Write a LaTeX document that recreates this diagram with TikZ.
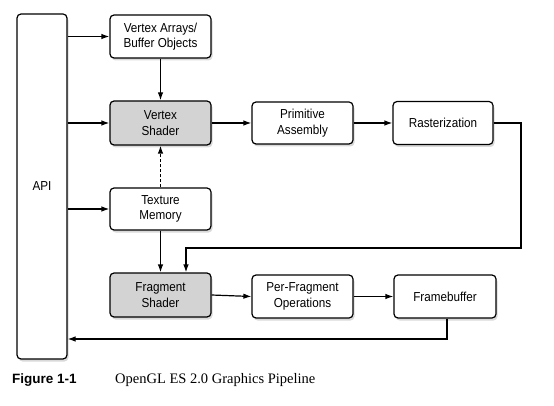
\documentclass[tikz,border=0pt]{standalone}
\usepackage{fontspec}
\setmainfont{Liberation Serif}
\newfontfamily\boxfont[FakeStretch=0.9]{Liberation Sans}
\newfontfamily\capfont{Liberation Sans}
\usetikzlibrary{arrows.meta,shadows}
\definecolor{shadegray}{HTML}{D3D3D3}
\tikzset{
  blk/.style={draw=black, line width=1.2pt, rounded corners=4pt, fill=white,
    minimum width=101pt, minimum height=43pt, align=center,
    font=\boxfont\fontsize{13}{15.5}\selectfont, inner sep=2pt,
    drop shadow={shadow xshift=1.5pt, shadow yshift=-2.5pt, opacity=0.3}},
  shaded/.style={blk, fill=shadegray},
  arr/.style={line width=1.2pt, -{Latex[length=8pt,width=5.5pt]}},
}
\begin{document}
\begin{tikzpicture}[x=1pt,y=-1pt]
\useasboundingbox (0,0) rectangle (554,406);
\node[blk, minimum width=50pt, minimum height=345pt] (api) at (42,186.5) {API};
\node[blk] (va) at (160.5,36.5) {Vertex Arrays/\\Buffer Objects};
\node[shaded, minimum height=44pt] (vs) at (160.5,123) {Vertex\\Shader};
\node[blk, minimum height=42pt] (tm) at (160.5,209) {Texture\\Memory};
\node[shaded, minimum height=44pt] (fs) at (160.5,295) {Fragment\\Shader};
\node[blk, minimum height=42pt] (pa) at (302.5,123) {Primitive\\Assembly};
\node[blk, minimum width=100pt] (ra) at (443,123) {Rasterization};
\node[blk] (pfo) at (302.5,296.5) {Per-Fragment\\Operations};
\node[blk, minimum width=102pt] (fb) at (445,296.5) {Framebuffer};

\draw[arr] (api.east |- va.west) -- (va.west);
\draw[arr] (api.east |- vs.west) -- (vs.west);
\draw[arr] (api.east |- tm.west) -- (tm.west);
\draw[arr] (va.south) -- (vs.north);
\draw[arr, densely dashed] (tm.north) -- (vs.south);
\draw[arr] (tm.south) -- (fs.north);
\draw[arr] (vs.east) -- (pa.west);
\draw[arr] (pa.east) -- (ra.west);
\draw[arr] (fs.east) -- (pfo.west);
\draw[arr] (pfo.east) -- (fb.west);

\coordinate (r1) at (521,123);
\coordinate (r2) at (521,248);
\coordinate (r3) at (186,248);
\draw[arr] (ra.east) -- (r1) -- (r2) -- (r3) -- (r3 |- fs.north);

\coordinate (f1) at (447,339);
\draw[arr] (f1 |- fb.south) -- (f1) -- (api.east |- f1);

\node[anchor=base west, inner sep=0pt, font=\capfont\bfseries\fontsize{13.5}{16}\selectfont] (figlbl) at (12,383) {Figure 1-1};
\node[anchor=base west, inner sep=0pt, font=\fontsize{14.5}{17}\selectfont] (figcap) at (115,383) {OpenGL ES 2.0 Graphics Pipeline};
\end{tikzpicture}
\end{document}
